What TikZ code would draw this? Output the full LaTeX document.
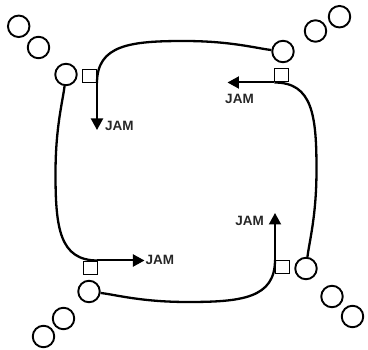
\documentclass[tikz,border=0pt]{standalone}
\usepackage{fontspec}
\setmainfont{Liberation Sans}
\usetikzlibrary{arrows.meta}
\begin{document}
\begin{tikzpicture}[x=1pt,y=-1pt,
  ring/.style={circle,draw,line width=1.9pt,minimum size=21.5pt,inner sep=0pt},
  port/.style={rectangle,draw,line width=1.3pt,minimum size=13.5pt,inner sep=0pt},
  loopline/.style={line width=2.3pt},
  jamarrow/.style={line width=2pt,-{Triangle[length=11.5pt,width=12pt]}},
  jam/.style={font=\bfseries\fontsize{13.5}{13.5}\selectfont,inner sep=0pt,text=black!85}]
\useasboundingbox (0,0) rectangle (368,350);

% one corner of the ring, repeated four times by rotation about the centre
\foreach \ang/\n in {0/a,-90/b,-180/c,-270/d}{
  \begin{scope}[rotate around={\ang:(186,171.5)}]
    \node[port] (port\n) at (89.5,76) {};
    \node[ring] (ring\n) at (66,74.5) {};
    \coordinate (start\n) at (97,83);
    \coordinate (tip\n) at (97,130);
    \coordinate (apex\n) at (184,41);
  \end{scope}
}

% the curved sides and the JAM arrows
\foreach \ang/\n/\m in {0/a/b,-90/b/c,-180/c/d,-270/d/a}{
  \begin{scope}[rotate around={\ang:(186,171.5)}]
    \draw[loopline] (start\n) .. controls (97,45) and (130,41) .. (apex\n)
                    .. controls (230,41) and (255,48) .. (ring\m);
    \draw[jamarrow] (start\n) -- (tip\n);
  \end{scope}
}

% labels
\node[jam,anchor=west]  (jama) at (105,125.5) {JAM};
\node[jam,anchor=north] (jamb) at (239.5,94) {JAM};
\node[jam,anchor=east]  (jamc) at (264,220.5) {JAM};
\node[jam,anchor=west]  (jamd) at (145.5,260) {JAM};

% detached circles at the corners
\node[ring] (dot1) at (18.7,26.3) {};
\node[ring] (dot2) at (38.5,47.5) {};
\node[ring] (dot3) at (315.5,31) {};
\node[ring] (dot4) at (339.5,16.7) {};
\node[ring] (dot5) at (332,296.5) {};
\node[ring] (dot6) at (352.5,316.5) {};
\node[ring] (dot7) at (63.5,318.5) {};
\node[ring] (dot8) at (43.5,336.5) {};
\end{tikzpicture}
\end{document}
